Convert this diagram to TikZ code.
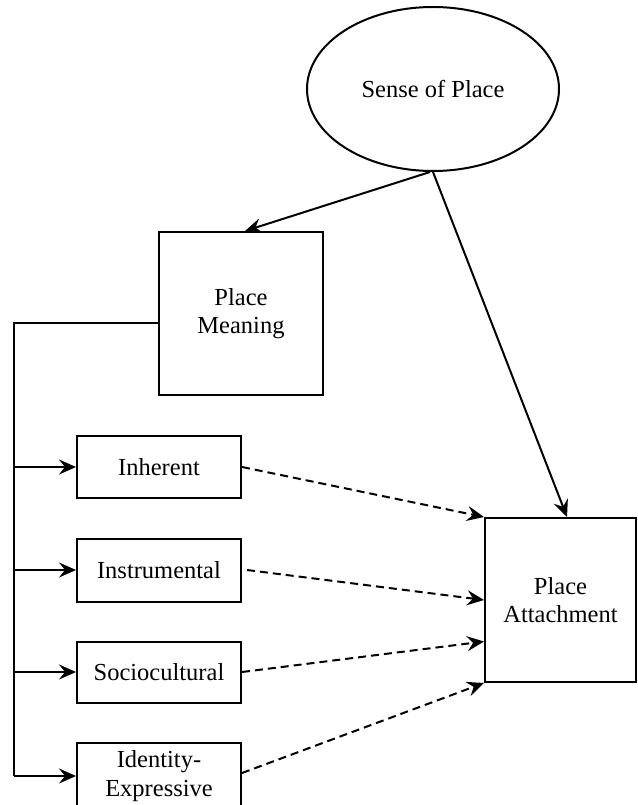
\documentclass[tikz,border=0pt]{standalone}
\usepackage{fontspec}
\setmainfont{Liberation Serif}
\usetikzlibrary{shapes.geometric,arrows.meta,calc}
\tikzset{
  box/.style={draw=black, line width=2pt, rectangle, align=center, inner sep=0pt, font=\fontsize{24.5}{28.5}\selectfont},
  oval/.style={draw=black, line width=2pt, ellipse, align=center, inner sep=0pt, font=\fontsize{24.5}{28.5}\selectfont},
  link/.style={line width=2pt, draw=black},
  solidarrow/.style={link, -{Stealth[length=17pt,width=15pt,inset=6pt]}},
  dasharrow/.style={link, dash pattern=on 8pt off 5pt, -{Stealth[length=17pt,width=15pt,inset=6pt]}}
}
\begin{document}
\begin{tikzpicture}[x=1pt,y=-1pt]
\useasboundingbox (0,0) rectangle (637,805);
\clip (0,0) rectangle (637,805);
\fill[white] (0,0) rectangle (637,805);

\node[oval, minimum width=252pt, minimum height=164pt] (sop) at (433,89) {Sense of Place};
\node[box, minimum width=164pt, minimum height=163pt] (pm) at (241,313.5) {Place\\Meaning};
\node[box, minimum width=164pt, minimum height=62pt] (inh) at (159,467) {Inherent};
\node[box, minimum width=164pt, minimum height=63pt] (ins) at (159,570) {Instrumental};
\node[box, minimum width=164pt, minimum height=61pt] (soc) at (159,672) {Sociocultural};
\node[box, minimum width=164pt, minimum height=66pt] (ide) at (159,776) {Identity-\\Expressive};
\node[box, minimum width=151pt, minimum height=164pt] (pa) at (560.5,600) {Place\\Attachment};

\coordinate (pmw) at ($(pm.west)+(0,9.5)$);
\coordinate (bustop) at (14,323);
\coordinate (busbot) at (14,776);

\draw[solidarrow] ($(sop.south)+(-3,0)$) -- ($(pm.north)+(4,0)$);
\draw[solidarrow] (sop.south) -- ($(pa.north)+(6.5,0)$);

\draw[link] (pmw) -- (bustop) -- (busbot);
\draw[solidarrow] (bustop |- inh.west) -- (inh.west);
\draw[solidarrow] (bustop |- ins.west) -- (ins.west);
\draw[solidarrow] (bustop |- soc.west) -- (soc.west);
\draw[solidarrow] (busbot) -- (ide.west);

\draw[dasharrow] (inh.east) -- (pa.north west);
\draw[dasharrow] ($(ins.east)+(5,0)$) -- ($(pa.north west)!0.5!(pa.south west)$);
\draw[dasharrow] (soc.east) -- ($(pa.north west)!0.75!(pa.south west)$);
\draw[dasharrow] ($(ide.east)+(0,-3)$) -- (pa.south west);
\end{tikzpicture}
\end{document}
